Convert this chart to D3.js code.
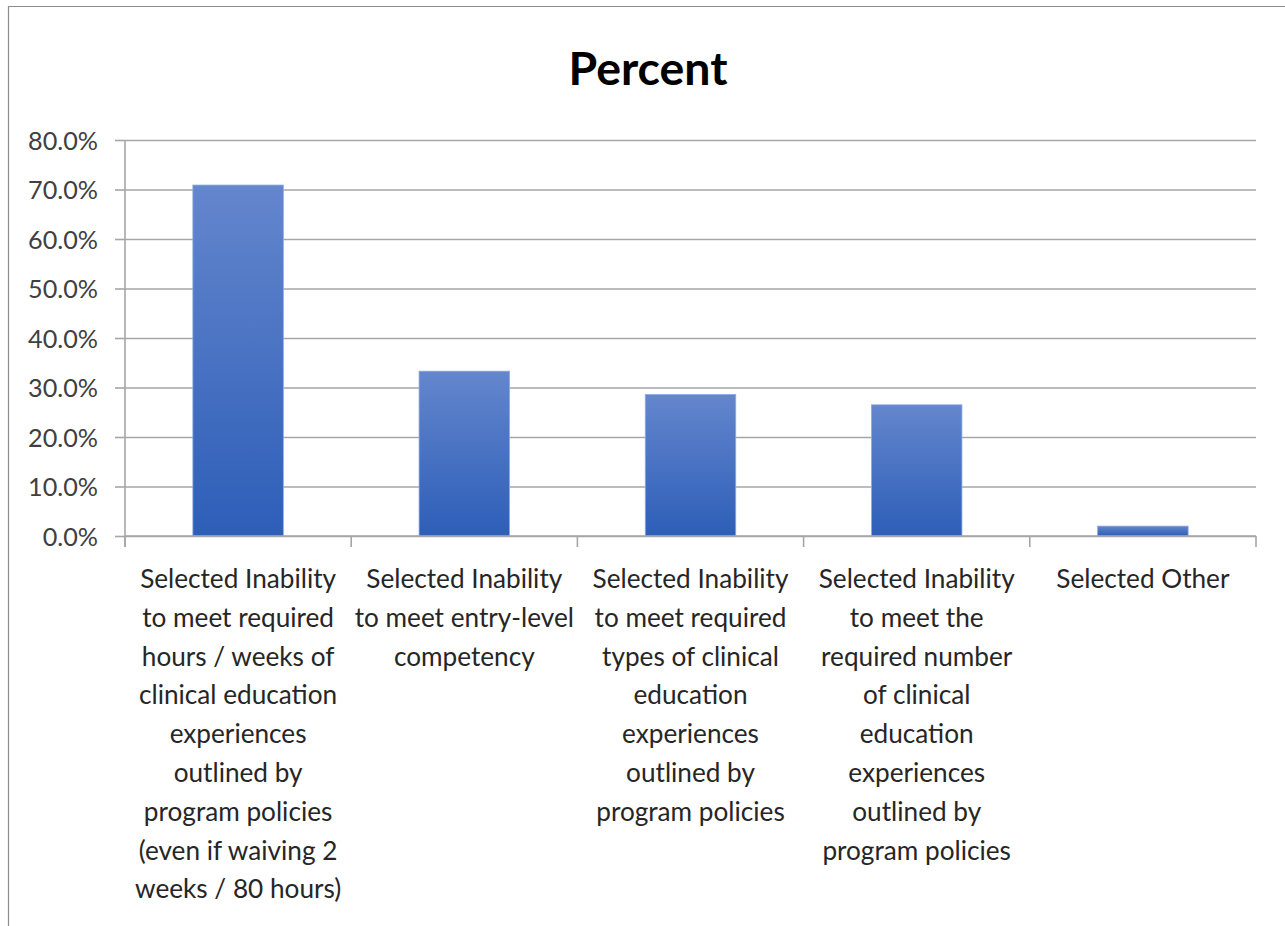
<!DOCTYPE html>
<html>
<head>
<meta charset="utf-8">
<script src="https://cdn.jsdelivr.net/npm/d3@7"></script>
<style>
  html, body { margin: 0; padding: 0; background: #fff; }
  svg { display: block; }
  text { font-family: Lato, "Open Sans", sans-serif; }
</style>
</head>
<body>
<svg id="chart" width="1285" height="926"></svg>
<script>
const title = "Percent";
const categories = [
  "Selected Inability to meet required hours / weeks of clinical education experiences outlined by program policies (even if waiving 2 weeks / 80 hours)",
  "Selected Inability to meet entry-level competency",
  "Selected Inability to meet required types of clinical education experiences outlined by program policies",
  "Selected Inability to meet the required number of clinical education experiences outlined by program policies",
  "Selected Other"
];
const labelLines = [
  ["Selected Inability","to meet required","hours / weeks of","clinical education","experiences","outlined by","program policies","(even if waiving 2","weeks / 80 hours)"],
  ["Selected Inability","to meet entry-level","competency"],
  ["Selected Inability","to meet required","types of clinical","education","experiences","outlined by","program policies"],
  ["Selected Inability","to meet the","required number","of clinical","education","experiences","outlined by","program policies"],
  ["Selected Other"]
];
const values = [70.9, 33.3, 28.6, 26.5, 2.0];
const yTicks = [0, 10, 20, 30, 40, 50, 60, 70, 80];

const svg = d3.select("#chart");

// outer frame (left and top edges visible)
svg.append("path")
  .attr("d", "M8.5,926 L8.5,6.5 L1285,6.5")
  .attr("fill", "none").attr("stroke", "#8c8c8c").attr("stroke-width", 1.2);

const plot = { left: 125, right: 1256, top: 140, bottom: 536 };

const x = d3.scaleBand().domain(categories).range([plot.left, plot.right])
  .paddingInner(0.6).paddingOuter(0.3);
const y = d3.scaleLinear().domain([0, 80]).range([plot.bottom, plot.top]);

// fit font helper
function fitSize(str, weight, targetW) {
  const t = svg.append("text").attr("font-size", 100).attr("font-weight", weight).text(str);
  const w = t.node().getComputedTextLength();
  t.remove();
  return 100 * targetW / w;
}

// gradient
const defs = svg.append("defs");
const grad = defs.append("linearGradient").attr("id", "barGrad")
  .attr("x1", 0).attr("y1", 0).attr("x2", 0).attr("y2", 1);
grad.append("stop").attr("offset", "0%").attr("stop-color", "#6486cd");
grad.append("stop").attr("offset", "100%").attr("stop-color", "#2d5eb8");

// gridlines
svg.append("g")
  .attr("transform", `translate(${plot.left},0)`)
  .call(d3.axisLeft(y).tickValues(yTicks).tickSize(-(plot.right - plot.left)).tickFormat(""))
  .call(g => g.select(".domain").remove())
  .call(g => g.selectAll("line").attr("stroke", "#a6a6a6").attr("stroke-width", 1.6));

// y axis
const tickSize = fitSize("80.0%", "normal", 70);
const yAxis = svg.append("g")
  .attr("transform", `translate(${plot.left},0)`)
  .call(d3.axisLeft(y).tickValues(yTicks).tickSize(10).tickSizeOuter(0)
    .tickFormat(d => d.toFixed(1) + "%"));
yAxis.select(".domain").attr("stroke", "#a6a6a6").attr("stroke-width", 1.6)
  .attr("d", `M0,${plot.top}V${plot.bottom + 11}`);
yAxis.selectAll("line").attr("stroke", "#a6a6a6").attr("stroke-width", 1.6);
yAxis.selectAll("text").attr("font-size", tickSize).attr("fill", "#404040")
  .attr("font-family", "Lato, sans-serif").attr("x", -27).attr("dy", "0.36em");

// bars
svg.append("g").selectAll("rect")
  .data(values)
  .join("rect")
  .attr("x", (d, i) => x(categories[i]))
  .attr("width", x.bandwidth())
  .attr("y", d => y(d))
  .attr("height", d => y(0) - y(d))
  .attr("fill", "url(#barGrad)")
  .attr("stroke", "#8eaae0").attr("stroke-width", 0.8);

// x axis line and ticks at band boundaries
const xAxisG = svg.append("g");
xAxisG.append("line")
  .attr("x1", plot.left).attr("x2", plot.right)
  .attr("y1", y(0)).attr("y2", y(0))
  .attr("stroke", "#a6a6a6").attr("stroke-width", 1.6);
const boundaries = categories.map((c, i) => x(c) - x.step() * 0.3).concat([plot.right]);
xAxisG.selectAll("line.tk").data(boundaries).join("line").attr("class", "tk")
  .attr("x1", d => d).attr("x2", d => d)
  .attr("y1", y(0)).attr("y2", y(0) + 11)
  .attr("stroke", "#a6a6a6").attr("stroke-width", 1.6);

// category labels
const labelSize = fitSize("Selected Inability", "normal", 196);
const lab = svg.append("g");
labelLines.forEach((lines, i) => {
  const cx = x(categories[i]) + x.bandwidth() / 2;
  const t = lab.append("text")
    .attr("text-anchor", "middle")
    .attr("font-size", labelSize)
    .attr("fill", "#262626");
  lines.forEach((ln, j) => {
    t.append("tspan").attr("x", cx).attr("y", 588 + j * 38.8).text(ln);
  });
});

// title
const titleSize = fitSize(title, "bold", 159);
svg.append("text")
  .attr("x", 648).attr("y", 85)
  .attr("text-anchor", "middle")
  .attr("font-size", titleSize)
  .attr("font-weight", "bold")
  .attr("fill", "#000")
  .text(title);
</script>
</body>
</html>
